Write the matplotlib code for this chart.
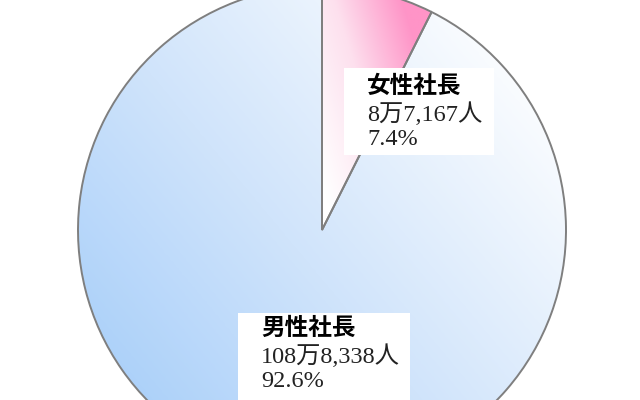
import numpy as np
import matplotlib
matplotlib.use("Agg")
import matplotlib.pyplot as plt
from matplotlib.colors import LinearSegmentedColormap
from matplotlib.patches import Rectangle

# data
names = ["女性社長", "男性社長"]
counts = [87167, 1088338]
count_labels = ["8万7,167人", "108万8,338人"]
pct_labels = ["7.4%", "92.6%"]

fig = plt.figure(figsize=(6.4, 4.0), dpi=100)
ax = fig.add_axes([0, 0, 1, 1])

cx, cy, r = 322, 170, 244
wedges, _ = ax.pie(counts, radius=r, center=(cx, cy), startangle=90,
                   counterclock=False, frame=True,
                   wedgeprops=dict(facecolor="none", edgecolor="#7f7f7f",
                                   linewidth=1.4, zorder=3))

# gradient fills clipped to the wedges
ext = [cx - r, cx + r, cy - r, cy + r]
xx, yy = np.meshgrid(np.linspace(-1, 1, 400), np.linspace(-1, 1, 400))

pink = LinearSegmentedColormap.from_list("pink", ["#ffffff", "#fde0ee", "#ff94c7"])
t_f = np.clip(xx / 0.42 * 0.75 + (yy - 0.2) * 0.55, 0, 1)
im = ax.imshow(t_f, cmap=pink, extent=ext, origin="lower", zorder=1,
               vmin=0, vmax=1, interpolation="bilinear")
im.set_clip_path(wedges[0])

blue = LinearSegmentedColormap.from_list("blue", ["#9dc9f9", "#d0e4fb", "#ffffff"])
t_m = np.clip(((xx + 1) * 0.9 + (yy + 1) * 0.75) / 3.0, 0, 1)
im2 = ax.imshow(t_m, cmap=blue, extent=ext, origin="lower", zorder=1,
                vmin=0, vmax=1, interpolation="bilinear")
im2.set_clip_path(wedges[1])

ax.set_xlim(0, 640)
ax.set_ylim(0, 400)
ax.set_aspect("equal")
ax.axis("off")

# label boxes
boxes = [(344, 400 - 155, 150, 87, 367, 400 - 74),
         (238, 0, 172, 400 - 313, 261, 400 - 316)]
for i, (bx, by, bw, bh, tx, ty) in enumerate(boxes):
    ax.add_patch(Rectangle((bx, by), bw, bh, facecolor="white",
                           edgecolor="none", zorder=4))
    ax.text(tx, ty, names[i], family=["Noto Sans CJK JP"], fontweight="bold",
            fontsize=17, va="top", ha="left", zorder=5)
    ax.text(tx, ty - 28, count_labels[i],
            family=["Liberation Serif", "Noto Sans CJK JP"],
            fontsize=17.5, va="top", ha="left", zorder=5, color="#222222")
    ax.text(tx, ty - 55, pct_labels[i],
            family=["Liberation Serif", "Noto Sans CJK JP"],
            fontsize=17.5, va="top", ha="left", zorder=5, color="#222222")

fig.savefig("out.png", dpi=100)
